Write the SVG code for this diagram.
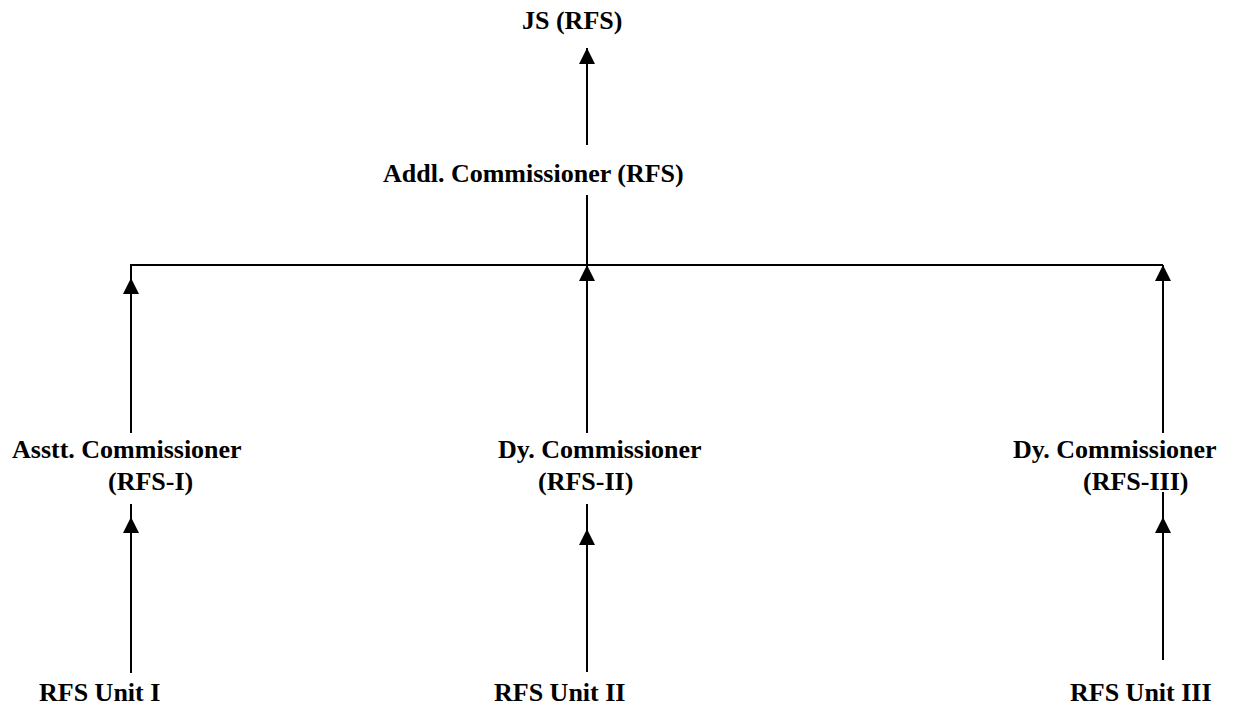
<svg xmlns="http://www.w3.org/2000/svg" width="1233" height="713" viewBox="0 0 1233 713">
<style>
text{font-family:"Liberation Serif","Times New Roman",serif;font-weight:bold;font-size:26px;fill:#000}
.ln{stroke:#000;stroke-width:2;fill:none}
</style>
<defs>
<marker id="ah" markerUnits="userSpaceOnUse" viewBox="0 0 16 16" refX="16" refY="8" markerWidth="16" markerHeight="16" orient="auto">
<path d="M0,0 L16,8 L0,16 z" fill="#000"/>
</marker>
</defs>
<rect width="1233" height="713" fill="#fff"/>
<g id="connectors">
<path class="ln" d="M587,145 L587,48" marker-end="url(#ah)"/>
<path class="ln" d="M587,195 L587,265 M131,265 L1163,265"/>
<path class="ln" d="M131,433 L131,278" marker-end="url(#ah)"/>
<path class="ln" d="M131,278 L131,264"/>
<path class="ln" d="M587,433 L587,265" marker-end="url(#ah)"/>
<path class="ln" d="M1163,433 L1163,265" marker-end="url(#ah)"/>
<path class="ln" d="M131,673 L131,517" marker-end="url(#ah)"/>
<path class="ln" d="M131,517 L131,504"/>
<path class="ln" d="M587,672 L587,529" marker-end="url(#ah)"/>
<path class="ln" d="M587,529 L587,504"/>
<path class="ln" d="M1163,660 L1163,517" marker-end="url(#ah)"/>
<path class="ln" d="M1163,517 L1163,492"/>
</g>
<g id="js"><text x="522" y="29">JS (RFS)</text></g>
<g id="addl"><text x="383" y="182">Addl. Commissioner (RFS)</text></g>
<g id="asstt"><text x="12" y="458">Asstt. Commissioner</text><text x="108" y="490">(RFS-I)</text></g>
<g id="dy2"><text x="498" y="458">Dy. Commissioner</text><text x="538" y="490">(RFS-II)</text></g>
<g id="dy3"><text x="1013" y="458">Dy. Commissioner</text><text x="1083" y="490">(RFS-III)</text></g>
<g id="unit1"><text x="39" y="701">RFS Unit I</text></g>
<g id="unit2"><text x="494" y="701">RFS Unit II</text></g>
<g id="unit3"><text x="1070" y="701">RFS Unit III</text></g>
</svg>
